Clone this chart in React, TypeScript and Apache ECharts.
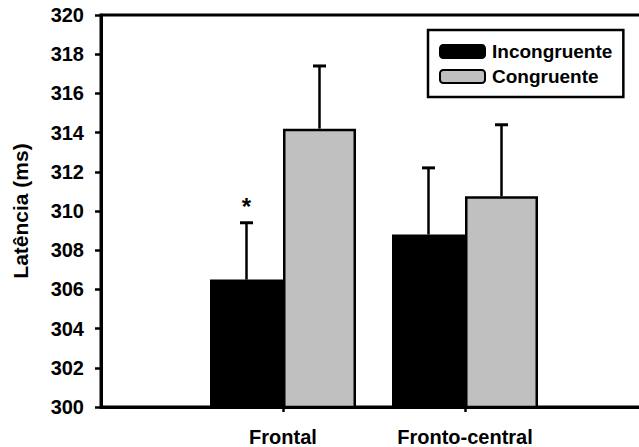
import React, { useEffect, useRef } from "react";
import * as echarts from "echarts";

const categories = ["", "Frontal", "Fronto-central", ""];
const seriesNames = ["Incongruente", "Congruente"];
const incongruente = [null, 306.5, 308.8, null];
const congruente = [null, 314.2, 310.75, null];
const incongruenteErr = [null, 2.9, 3.4, null];
const congruenteErr = [null, 3.2, 3.65, null];
const incongruenteMark = ["", "*", "", ""];
const congruenteMark = ["", "", "", ""];
const yTicks = { min: 300, max: 320, interval: 2 };

const FONT = "'Liberation Sans', Arial, Helvetica, sans-serif";
const FS = 20;
const BAR_W = 73;

export default function App() {
  const ref = useRef<HTMLDivElement>(null);
  useEffect(() => {
    if (!ref.current) return;
    const chart = echarts.init(ref.current, undefined, { renderer: "svg" });

    const errData: any[] = [];
    [incongruente, congruente].forEach((vals, s) => {
      const errs = s === 0 ? incongruenteErr : congruenteErr;
      const marks = s === 0 ? incongruenteMark : congruenteMark;
      vals.forEach((v, i) => {
        if (v == null) return;
        errData.push([i, v, v + (errs[i] as number), s, marks[i]]);
      });
    });

    chart.setOption({
      animation: false,
      backgroundColor: "#fff",
      grid: {
        left: 101,
        top: 15,
        width: 546,
        height: 392,
        show: true,
        borderColor: "#000",
        borderWidth: 3,
        containLabel: false,
        outerBoundsMode: "none",
      },
      legend: {
        orient: "vertical",
        left: 428,
        top: 30,
        data: seriesNames,
        padding: [12, 11, 11, 11],
        itemGap: 6,
        itemWidth: 45,
        itemHeight: 13,
        borderColor: "#000",
        borderWidth: 2.5,
        textStyle: {
          fontFamily: FONT,
          fontWeight: "bold",
          fontSize: 19,
          color: "#000",
          padding: [0, 0, 0, 2],
        },
      },
      xAxis: {
        type: "category",
        data: categories,
        boundaryGap: false,
        axisLine: { lineStyle: { color: "#000", width: 3 } },
        axisTick: {
          show: true,
          length: 5,
          interval: (i: number, v: string) => v !== "",
          lineStyle: { color: "#000", width: 2.5 },
        },
        axisLabel: {
          margin: 20,
          interval: 0,
          fontFamily: FONT,
          fontWeight: "bold",
          fontSize: FS,
          color: "#000",
        },
        splitLine: { show: false },
      },
      yAxis: {
        type: "value",
        min: yTicks.min,
        max: yTicks.max,
        interval: yTicks.interval,
        name: "Latência (ms)",
        nameLocation: "middle",
        nameGap: 70,
        nameTextStyle: { fontFamily: FONT, fontWeight: "bold", fontSize: 21, color: "#000" },
        axisLine: { show: true, lineStyle: { color: "#000", width: 3 } },
        axisTick: { show: true, length: 6, lineStyle: { color: "#000", width: 2.5 } },
        axisLabel: { margin: 17, fontFamily: FONT, fontWeight: "bold", fontSize: FS, color: "#000" },
        splitLine: { show: false },
      },
      series: [
        {
          name: seriesNames[0],
          type: "bar",
          data: incongruente,
          barWidth: BAR_W,
          barGap: "0%",
          itemStyle: { color: "#000", borderColor: "#000", borderWidth: 2 },
        },
        {
          name: seriesNames[1],
          type: "bar",
          data: congruente,
          barWidth: BAR_W,
          barGap: "0%",
          itemStyle: { color: "#c0c0c0", borderColor: "#000", borderWidth: 2.5 },
        },
        {
          type: "custom",
          data: errData,
          encode: { x: 0, y: 2 },
          z: 5,
          silent: true,
          renderItem: (params: any, api: any) => {
            const idx = api.value(0);
            const v = api.value(1);
            const top = api.value(2);
            const s = api.value(3);
            const mark = errData[params.dataIndex][4];
            const base = api.coord([idx, v]);
            const tp = api.coord([idx, top]);
            const off = (s === 0 ? -1 : 1) * (BAR_W / 2);
            const x = base[0] + off;
            const children: any[] = [
              {
                type: "line",
                shape: { x1: x, y1: base[1], x2: x, y2: tp[1] },
                style: { stroke: "#000", lineWidth: 2.5 },
              },
              {
                type: "line",
                shape: { x1: x - 6.5, y1: tp[1], x2: x + 6.5, y2: tp[1] },
                style: { stroke: "#000", lineWidth: 3 },
              },
            ];
            if (mark) {
              children.push({
                type: "text",
                style: {
                  text: mark,
                  x: x,
                  y: tp[1] - 4,
                  align: "center",
                  verticalAlign: "bottom",
                  fontFamily: FONT,
                  fontWeight: "bold",
                  fontSize: 24,
                  fill: "#000",
                },
              });
            }
            return { type: "group", children };
          },
        },
      ],
    });
    return () => chart.dispose();
  }, []);
  return <div ref={ref} style={{ width: 639, height: 447, position: "absolute", left: 0, top: 0 }} />;
}
